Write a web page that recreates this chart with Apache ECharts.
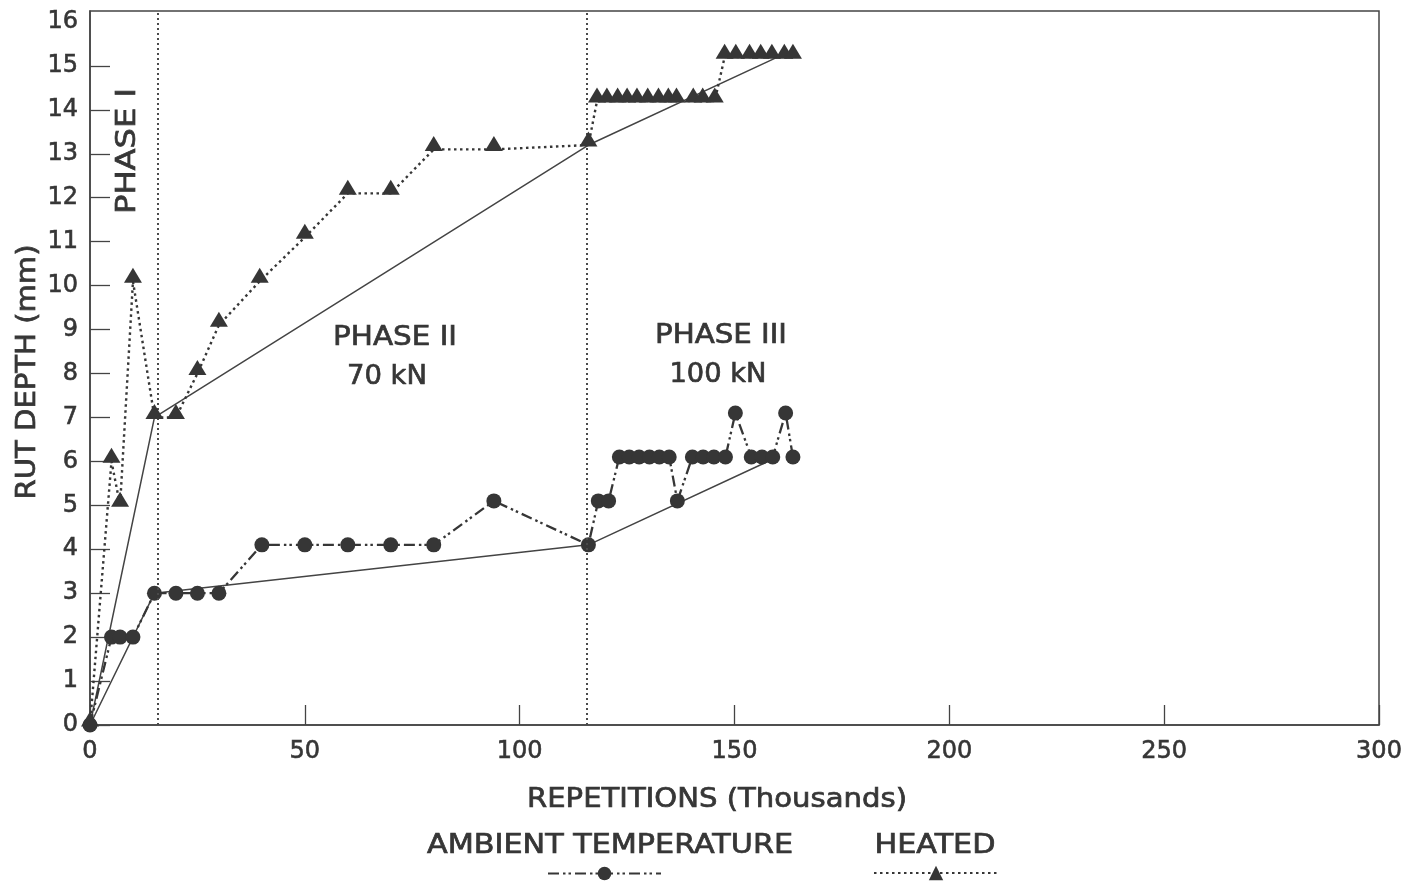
<!DOCTYPE html>
<html>
<head>
<meta charset="utf-8">
<title>Rut depth vs repetitions</title>
<script src="https://cdn.jsdelivr.net/npm/echarts@6/dist/echarts.min.js"></script>
<style>
  html, body { margin: 0; padding: 0; background: #ffffff; }
  #chart { width: 1412px; height: 884px; }
</style>
</head>
<body>
<div id="chart"></div>
<script>
// Repetitions (thousands) and rut depth (mm), ambient temperature section
const ambientReps = [0, 5, 7, 10, 15, 20, 25, 30, 40, 50, 60, 70, 80, 94, 116,
  118.3, 120.7, 123.2, 125.5, 127.8, 130.2, 132.5, 134.8, 136.7,
  140.2, 142.7, 145.2, 147.9, 150.2, 153.9, 156.4, 158.9, 161.9, 163.6];
const ambientDepth = [0, 2, 2, 2, 3, 3, 3, 3, 4.1, 4.1, 4.1, 4.1, 4.1, 5.1, 4.1,
  5.1, 5.1, 6.1, 6.1, 6.1, 6.1, 6.1, 6.1, 5.1,
  6.1, 6.1, 6.1, 6.1, 7.1, 6.1, 6.1, 6.1, 7.1, 6.1];

// Heated section
const heatedReps = [0, 5, 7, 10, 15, 20, 25, 30, 39.5, 50, 60, 70, 80, 94, 116,
  118, 120.3, 122.8, 125, 127.3, 129.8, 132.3, 134.6, 136.5, 140.4, 142.6, 145.4,
  147.7, 150.3, 153.5, 156.1, 158.7, 161.6, 163.6];
const heatedDepth = [0, 6, 5, 10.1, 7, 7, 8, 9.1, 10.1, 11.1, 12.1, 12.1, 13.1, 13.1, 13.2,
  14.2, 14.2, 14.2, 14.2, 14.2, 14.2, 14.2, 14.2, 14.2, 14.2, 14.2, 14.2,
  15.2, 15.2, 15.2, 15.2, 15.2, 15.2, 15.2];

// Straight lines joining the end of each loading phase
const trendReps = [0, 15, 116, 160];
const trendAmbient = [0, 3, 4.1, 6.1];
const trendHeated = [0, 7, 13.2, 15.2];

// Phase boundaries (thousand repetitions)
const phaseBounds = [15.8, 115.5];

// Axis ticks and labels
const xTicks = [0, 50, 100, 150, 200, 250, 300];
const yLabels = [0, 1, 2, 3, 4, 5, 6, 7, 8, 9, 10, 11, 12, 13, 14, 15, 16];
const yTicks = [0, 1, 2, 3, 4, 5, 6, 7, 8, 9, 10, 11, 12, 13, 14, 15];

const AMBIENT = 'AMBIENT TEMPERATURE';
const HEATED = 'HEATED';

const INK = '#363636';
const FRAME = '#444444';
const FAMILY = '"DejaVu Sans", sans-serif';

const zip = (xs, ys) => xs.map((x, i) => [x, ys[i]]);

// text helper: wide lettering, stretched to a given run length
const measureCtx = document.createElement('canvas').getContext('2d');
function wideText(text, size, cx, cy, length, rotation) {
  const font = `${size}px ${FAMILY}`;
  measureCtx.font = font;
  const w = measureCtx.measureText(text).width;
  return {
    type: 'text',
    x: cx, y: cy,
    rotation: rotation || 0,
    scaleX: length / w,
    silent: true,
    z: 10,
    style: {
      text: text,
      font: font,
      fill: INK,
      stroke: INK,
      lineWidth: 0.7,
      align: 'center',
      verticalAlign: 'middle'
    }
  };
}

const chart = echarts.init(document.getElementById('chart'), null, { renderer: 'canvas' });

const axisLine = { show: true, lineStyle: { color: FRAME, width: 1.5 } };
const axisTickBase = { show: true, inside: true, length: 20, lineStyle: { color: FRAME, width: 1.3 } };
const labelStyle = {
  color: INK, fontSize: 24, fontFamily: FAMILY,
  textBorderColor: INK, textBorderWidth: 0.6
};

chart.setOption({
  animation: false,
  backgroundColor: '#ffffff',
  grid: {
    left: 90, right: 33, top: 11, bottom: 159,
    show: true, borderColor: FRAME, borderWidth: 1.5,
    containLabel: false
  },
  xAxis: {
    type: 'value',
    min: 0, max: 300, interval: 50,
    axisLine: axisLine,
    axisTick: Object.assign({ customValues: xTicks }, axisTickBase),
    splitLine: { show: false },
    axisLabel: Object.assign({ margin: 15, customValues: xTicks }, labelStyle)
  },
  yAxis: {
    type: 'value',
    min: 0, max: 16.25, interval: 1,
    axisLine: axisLine,
    axisTick: Object.assign({ customValues: yTicks }, axisTickBase),
    splitLine: { show: false },
    axisLabel: Object.assign({
      margin: 12,
      customValues: yLabels,
      formatter: v => (Number.isInteger(v) ? String(v) : '')
    }, labelStyle)
  },
  legend: [
    {
      data: [AMBIENT], left: 547, top: 865, padding: 0,
      itemWidth: 113, itemHeight: 17, itemGap: 0,
      formatter: () => '', selectedMode: false,
      textStyle: { fontSize: 1 }
    },
    {
      data: [HEATED], left: 873, top: 864, padding: 0,
      itemWidth: 124, itemHeight: 18, itemGap: 0,
      formatter: () => '', selectedMode: false,
      textStyle: { fontSize: 1 }
    }
  ],
  series: [
    {
      name: 'Ambient phase trend',
      type: 'line',
      data: zip(trendReps, trendAmbient),
      symbol: 'none',
      silent: true,
      z: 2,
      lineStyle: { color: '#444', width: 1.5, type: 'solid' },
      markLine: {
        silent: true,
        symbol: ['none', 'none'],
        label: { show: false },
        lineStyle: { color: '#4a4a4a', width: 2, type: [2, 3] },
        data: phaseBounds.map(x => ({ xAxis: x }))
      }
    },
    {
      name: 'Heated phase trend',
      type: 'line',
      data: zip(trendReps, trendHeated),
      symbol: 'none',
      silent: true,
      z: 2,
      lineStyle: { color: '#444', width: 1.5, type: 'solid' }
    },
    {
      name: AMBIENT,
      type: 'line',
      data: zip(ambientReps, ambientDepth),
      symbol: 'circle',
      symbolSize: 15,
      z: 4,
      itemStyle: { color: INK, borderWidth: 0 },
      lineStyle: { color: INK, width: 2.3, type: [11, 4, 2.5, 3, 2.5, 4] }
    },
    {
      name: HEATED,
      type: 'line',
      data: zip(heatedReps, heatedDepth),
      symbol: 'triangle',
      symbolSize: [18, 15],
      symbolOffset: [0, -6],
      z: 5,
      itemStyle: { color: INK, borderWidth: 0 },
      lineStyle: { color: INK, width: 2.4, type: [2.5, 3.5] }
    }
  ],
  graphic: [
    wideText('RUT DEPTH (mm)', 26, 28, 372, 255, Math.PI / 2),
    wideText('REPETITIONS (Thousands)', 26, 717, 800, 380),
    wideText('PHASE I', 26, 128, 151, 126, Math.PI / 2),
    wideText('PHASE II', 27, 395, 338, 124),
    wideText('70 kN', 27, 387, 377, 80),
    wideText('PHASE III', 27, 721, 336, 132),
    wideText('100 kN', 27, 718, 375, 97),
    wideText(AMBIENT, 26, 610, 846, 366),
    wideText(HEATED, 26, 935, 846, 121)
  ]
});
</script>
</body>
</html>
